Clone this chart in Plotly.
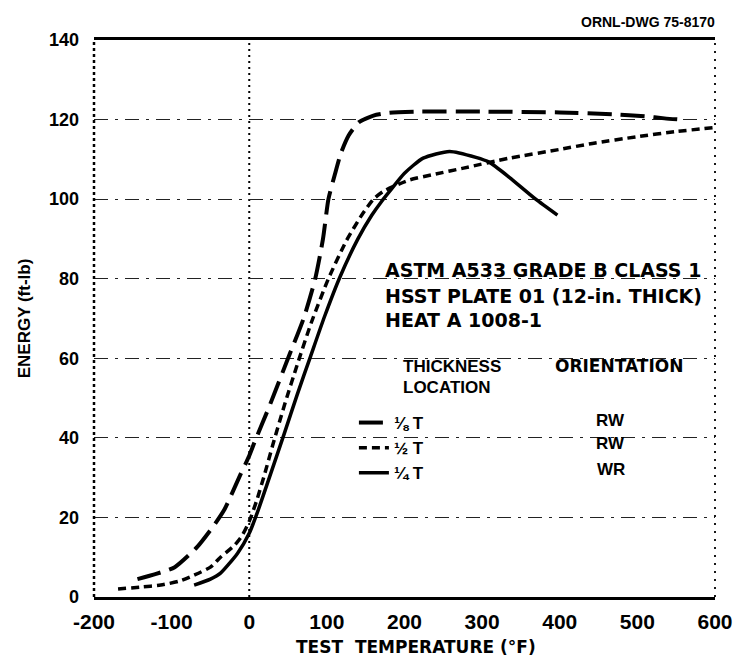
import plotly.graph_objects as go

# ---- data ----
eighth_x = [-144, -120, -96, -67, -47, -32, -12, 0, 8, 25, 50, 70, 85, 95, 102, 110, 118, 128, 141, 160, 180, 220, 300, 400, 470, 510, 535, 555]
eighth_y = [4.5, 5.8, 7.5, 12.6, 17.6, 22, 30.5, 35.5, 39.5, 47.5, 60, 70, 80, 90, 100, 106, 111.5, 116, 119.3, 121, 121.7, 122, 122, 121.8, 121.3, 120.8, 120.3, 120]

half_x = [-169, -140, -114, -90, -71, -50, -37, -19, -9, 0, 10, 20, 30, 45, 62, 80, 102, 125, 145, 160, 173, 206, 240, 276, 335, 400, 442, 500, 550, 600]
half_y = [2, 2.5, 3, 4, 5.5, 7.5, 10, 13, 15.5, 19, 24.5, 31, 38, 48, 58.5, 69, 80, 89.5, 96, 100, 102, 104.8, 106.3, 107.8, 110.3, 112.5, 114, 115.7, 117, 118]

quarter_x = [-71, -50, -37, -15, 0, 10, 25, 45, 62, 79, 97, 117, 140, 158, 170, 181, 200, 224, 258, 292, 309, 335, 369, 397]
quarter_y = [3, 4.5, 6, 11, 16, 21, 29.5, 41, 51, 60.5, 70.5, 80.5, 90, 96, 99.3, 102, 106.5, 110.3, 112, 110.5, 109.3, 105.5, 100, 96]

series_names = ["\u215b T", "\u00bd T", "\u00bc T"]
orientations = ["RW", "RW", "WR"]

x_ticks = [-200, -100, 0, 100, 200, 300, 400, 500, 600]
y_ticks = [0, 20, 40, 60, 80, 100, 120, 140]

FONT = "Liberation Sans"
WFONT = "DejaVu Sans"

fig = go.Figure()
styles = [
    dict(dash="24px,9px", width=4),
    dict(dash="8px,5px", width=3.5),
    dict(dash="solid", width=3.5),
]
for (xs, ys), name, st in zip([(eighth_x, eighth_y), (half_x, half_y), (quarter_x, quarter_y)], series_names, styles):
    fig.add_trace(go.Scatter(
        x=xs, y=ys, mode="lines", name=name,
        line=dict(color="black", width=st["width"], dash=st["dash"], shape="spline", smoothing=0.6),
    ))

# frame / reference lines
fig.add_shape(type="line", xref="x", yref="paper", x0=0, x1=0, y0=0, y1=1,
              line=dict(color="black", width=2, dash="2px,4px"), layer="below")
fig.add_shape(type="line", xref="paper", yref="paper", x0=0, x1=0, y0=0, y1=1,
              line=dict(color="black", width=2.5, dash="3px,3px"))
fig.add_shape(type="line", xref="paper", yref="paper", x0=1, x1=1, y0=0, y1=1,
              line=dict(color="black", width=1.8, dash="2px,6px"))

def px_to_paper(px, py):
    return (px - 94) / 626, (597 - py) / 557

anns = []
def add_text(text, px, py, size, xanchor="left", family=FONT):
    x, y = px_to_paper(px, py)
    anns.append(dict(text=text, x=x, y=y, xref="paper", yref="paper", xanchor=xanchor, yanchor="middle",
                     showarrow=False, font=dict(family=family, size=size, color="black", weight="bold")))

add_text("ASTM A533 GRADE B CLASS 1", 385, 270, 19, family=WFONT)
add_text("HSST PLATE 01 (12-in. THICK)", 385, 296, 19, family=WFONT)
add_text("HEAT A 1008-1", 385, 320, 19, family=WFONT)
add_text("THICKNESS", 403, 366, 17)
add_text("ORIENTATION", 557, 366, 17, family=WFONT)
add_text("LOCATION", 403, 388, 17)
for o, py in zip(orientations, [420, 444, 469]):
    add_text(o, 615, py, 17, xanchor="center")
add_text("ORNL-DWG 75-8170", 722, 22, 14, xanchor="right")
add_text("TEST  TEMPERATURE (\u00b0F)", 419, 647, 17, xanchor="center", family=WFONT)

lx, ly = px_to_paper(356, 405)
fig.update_layout(
    width=745, height=657,
    margin=dict(l=94, r=25, t=40, b=60),
    paper_bgcolor="white", plot_bgcolor="white",
    showlegend=True,
    legend=dict(x=lx, y=ly, xanchor="left", yanchor="top", bgcolor="rgba(0,0,0,0)",
                font=dict(family=FONT, size=17, color="black", weight="bold"),
                itemwidth=30, tracegroupgap=0),
    annotations=anns,
    xaxis=dict(range=[-200, 600], tickvals=x_ticks, ticktext=[str(v) for v in x_ticks],
               showgrid=False, zeroline=False, showline=True, mirror=True,
               linecolor="black", linewidth=2.5, ticks="", ticklabelstandoff=4,
               tickfont=dict(family=FONT, size=21, color="black", weight="bold")),
    yaxis=dict(range=[0, 140], tickvals=y_ticks, ticktext=[str(v) for v in y_ticks],
               showgrid=True, gridcolor="#222", gridwidth=1.2, griddash="14px,7px,3px,7px",
               zeroline=False, showline=False, ticks="", ticklabelstandoff=14,
               tickfont=dict(family=FONT, size=18, color="black", weight="bold"),
               title=dict(text="ENERGY (ft-lb)", standoff=14,
                          font=dict(family=FONT, size=17, color="black", weight="bold"))),
)

fig.write_html("out.html")
